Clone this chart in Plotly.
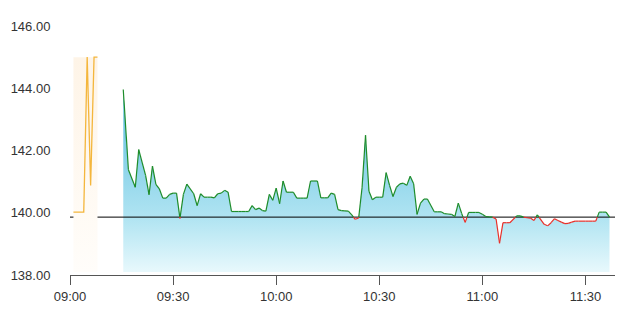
import plotly.graph_objects as go

DAY = "2024-01-02 "

# Pre-open (orange) series
pre_times = ["09:01", "09:04", "09:05", "09:06", "09:07", "09:08"]
pre_prices = [140.02, 140.02, 145.0, 140.88, 145.0, 145.0]

# Main session series
main_times = [
    "09:15:30", "09:17", "09:19", "09:20", "09:22", "09:23", "09:24", "09:25", "09:26", "09:27",
    "09:28", "09:29", "09:30", "09:31", "09:32", "09:33", "09:34", "09:36", "09:37", "09:38",
    "09:39", "09:40", "09:41", "09:42", "09:43", "09:44", "09:45", "09:46", "09:47", "09:48",
    "09:49", "09:50", "09:51", "09:52", "09:53", "09:54", "09:55", "09:56", "09:57", "09:58",
    "09:59", "10:00", "10:01", "10:02", "10:03", "10:04", "10:05", "10:06", "10:07", "10:08",
    "10:09", "10:10", "10:11", "10:12", "10:13", "10:14", "10:15", "10:16", "10:17", "10:18",
    "10:19", "10:20", "10:21", "10:22", "10:23", "10:24", "10:25", "10:26", "10:27", "10:28",
    "10:29", "10:30", "10:31", "10:32", "10:33", "10:34", "10:35", "10:36", "10:37", "10:38",
    "10:39", "10:40", "10:41", "10:42", "10:43", "10:44", "10:46", "10:47", "10:48", "10:49",
    "10:50", "10:51", "10:52", "10:53", "10:54", "10:55", "10:56", "10:57", "10:58", "10:59",
    "11:00", "11:01", "11:02", "11:03", "11:04", "11:05", "11:06", "11:07", "11:08", "11:10",
    "11:11", "11:12", "11:13", "11:14", "11:15", "11:16", "11:18", "11:19", "11:20", "11:21",
    "11:22", "11:23", "11:24", "11:25", "11:26", "11:27", "11:28", "11:29", "11:30", "11:31",
    "11:32", "11:33", "11:34", "11:35", "11:36", "11:37",
]
main_prices = [
    143.96, 141.38, 140.82, 142.03, 141.20, 140.58, 141.50, 140.91, 140.77, 140.47,
    140.47, 140.59, 140.63, 140.63, 139.82, 140.59, 140.92, 140.61, 140.23, 140.61,
    140.50, 140.50, 140.50, 140.48, 140.61, 140.63, 140.72, 140.66, 140.04, 140.04,
    140.04, 140.04, 140.04, 140.04, 140.23, 140.10, 140.15, 140.07, 140.05, 140.59,
    140.40, 140.79, 140.29, 141.02, 140.66, 140.66, 140.66, 140.47, 140.47, 140.47,
    140.47, 141.02, 141.02, 141.02, 140.48, 140.48, 140.48, 140.63, 140.59, 140.10,
    140.07, 140.06, 140.05, 139.93, 139.79, 139.83, 140.82, 142.49, 140.69, 140.42,
    140.50, 140.50, 140.50, 141.29, 140.88, 140.52, 140.82, 140.93, 140.95, 140.88,
    141.17, 140.93, 139.95, 140.31, 140.44, 140.44, 140.03, 140.03, 140.03, 139.97,
    139.96, 139.95, 139.88, 140.31, 139.97, 139.69, 140.01, 140.01, 140.01, 140.01,
    139.95, 139.88, 139.87, 139.86, 139.80, 139.02, 139.68, 139.68, 139.68, 139.90,
    139.90, 139.86, 139.84, 139.83, 139.75, 139.93, 139.63, 139.58, 139.68, 139.81,
    139.75, 139.70, 139.65, 139.66, 139.70, 139.73, 139.73, 139.73, 139.73, 139.73,
    139.73, 139.73, 140.02, 140.02, 140.02, 139.86,
]

prev_close = 139.86
y_ticks = [138, 140, 142, 144, 146]
x_tick_labels = ["09:00", "09:30", "10:00", "10:30", "11:00", "11:30"]
x_start, x_end = "09:00", "11:38:36"
y_min, y_max = 138, 146
fill_floor = 138.1
pre_top = 145.0


def ts(t):
    if len(t) == 5:
        t = t + ":00"
    return DAY + t


def sec(t):
    if len(t) == 5:
        t = t + ":00"
    h, m, s = [int(p) for p in t.split(":")]
    return h * 3600 + m * 60 + s


def fmt(s):
    s = round(s)
    return DAY + "%02d:%02d:%02d" % (s // 3600, (s % 3600) // 60, s % 60)


# split line into above (green) / below (red) pieces at prev_close crossings
gx, gy, rx, ry = [], [], [], []
secs = [sec(t) for t in main_times]
for i in range(len(secs) - 1):
    s0, s1 = secs[i], secs[i + 1]
    p0, p1 = main_prices[i], main_prices[i + 1]
    a0, a1 = p0 >= prev_close, p1 >= prev_close
    if a0 == a1:
        tx, ty = (gx, gy) if a0 else (rx, ry)
        tx += [fmt(s0), fmt(s1), None]
        ty += [p0, p1, None]
    else:
        f = (prev_close - p0) / (p1 - p0)
        sc = s0 + f * (s1 - s0)
        t0x, t0y = (gx, gy) if a0 else (rx, ry)
        t1x, t1y = (gx, gy) if a1 else (rx, ry)
        t0x += [fmt(s0), fmt(sc), None]
        t0y += [p0, prev_close, None]
        t1x += [fmt(sc), fmt(s1), None]
        t1y += [prev_close, p1, None]

main_x = [ts(t) for t in main_times]
fig = go.Figure()

# floor for the area fill
fig.add_trace(go.Scatter(x=[main_x[0], main_x[-1]], y=[fill_floor, fill_floor], mode="lines",
                         line=dict(width=0), hoverinfo="skip", showlegend=False))
fig.add_trace(go.Scatter(
    x=main_x, y=main_prices, mode="lines", line=dict(width=0), fill="tonexty",
    fillgradient=dict(type="vertical", start=y_min, stop=144,
                      colorscale=[[0, "rgb(236,250,253)"], [0.31, "rgb(176,228,242)"],
                                  [1, "rgb(90,188,222)"]]),
    hoverinfo="skip", showlegend=False))

# previous close line
fig.add_trace(go.Scatter(x=[ts(x_start), ts(x_end)], y=[prev_close, prev_close], mode="lines",
                         line=dict(color="black", width=1), hoverinfo="skip", showlegend=False))

# pre-open shaded block
px0, px1 = ts(pre_times[0]), ts(pre_times[-1])
fig.add_trace(go.Scatter(
    x=[px0, px0, px1, px1, px0], y=[fill_floor, pre_top, pre_top, fill_floor, fill_floor],
    mode="lines", line=dict(width=0), fill="toself",
    fillgradient=dict(type="vertical", start=fill_floor, stop=pre_top,
                      colorscale=[[0, "rgb(255,253,250)"], [1, "rgb(254,244,231)"]]),
    hoverinfo="skip", showlegend=False))
fig.add_trace(go.Scatter(x=[ts(t) for t in pre_times], y=pre_prices, mode="lines",
                         line=dict(color="#f4b63c", width=1.3), showlegend=False))

fig.add_trace(go.Scatter(x=gx, y=gy, mode="lines", line=dict(color="#1e8c2a", width=1.2),
                         showlegend=False))
fig.add_trace(go.Scatter(x=rx, y=ry, mode="lines", line=dict(color="#e8302a", width=1.2),
                         showlegend=False))

font = dict(family="Liberation Sans, Arial, sans-serif", size=13, color="#333333")
fig.update_layout(
    width=630, height=325, margin=dict(l=70, r=15, t=26, b=50),
    paper_bgcolor="white", plot_bgcolor="white", font=font, showlegend=False,
    xaxis=dict(type="date", range=[ts(x_start), ts(x_end)], showgrid=False, zeroline=False,
               tickvals=[ts(t) for t in x_tick_labels], ticktext=x_tick_labels,
               showline=True, linecolor="#555555", linewidth=1,
               ticks="outside", ticklen=9, tickcolor="#555555", tickfont=font),
    yaxis=dict(range=[y_min, y_max], showgrid=False, zeroline=False, showline=False,
               tickvals=y_ticks, ticktext=["%.2f" % v for v in y_ticks],
               ticks="outside", ticklen=16, tickcolor="rgba(0,0,0,0)", tickfont=font),
)

fig.write_html("out.html")
